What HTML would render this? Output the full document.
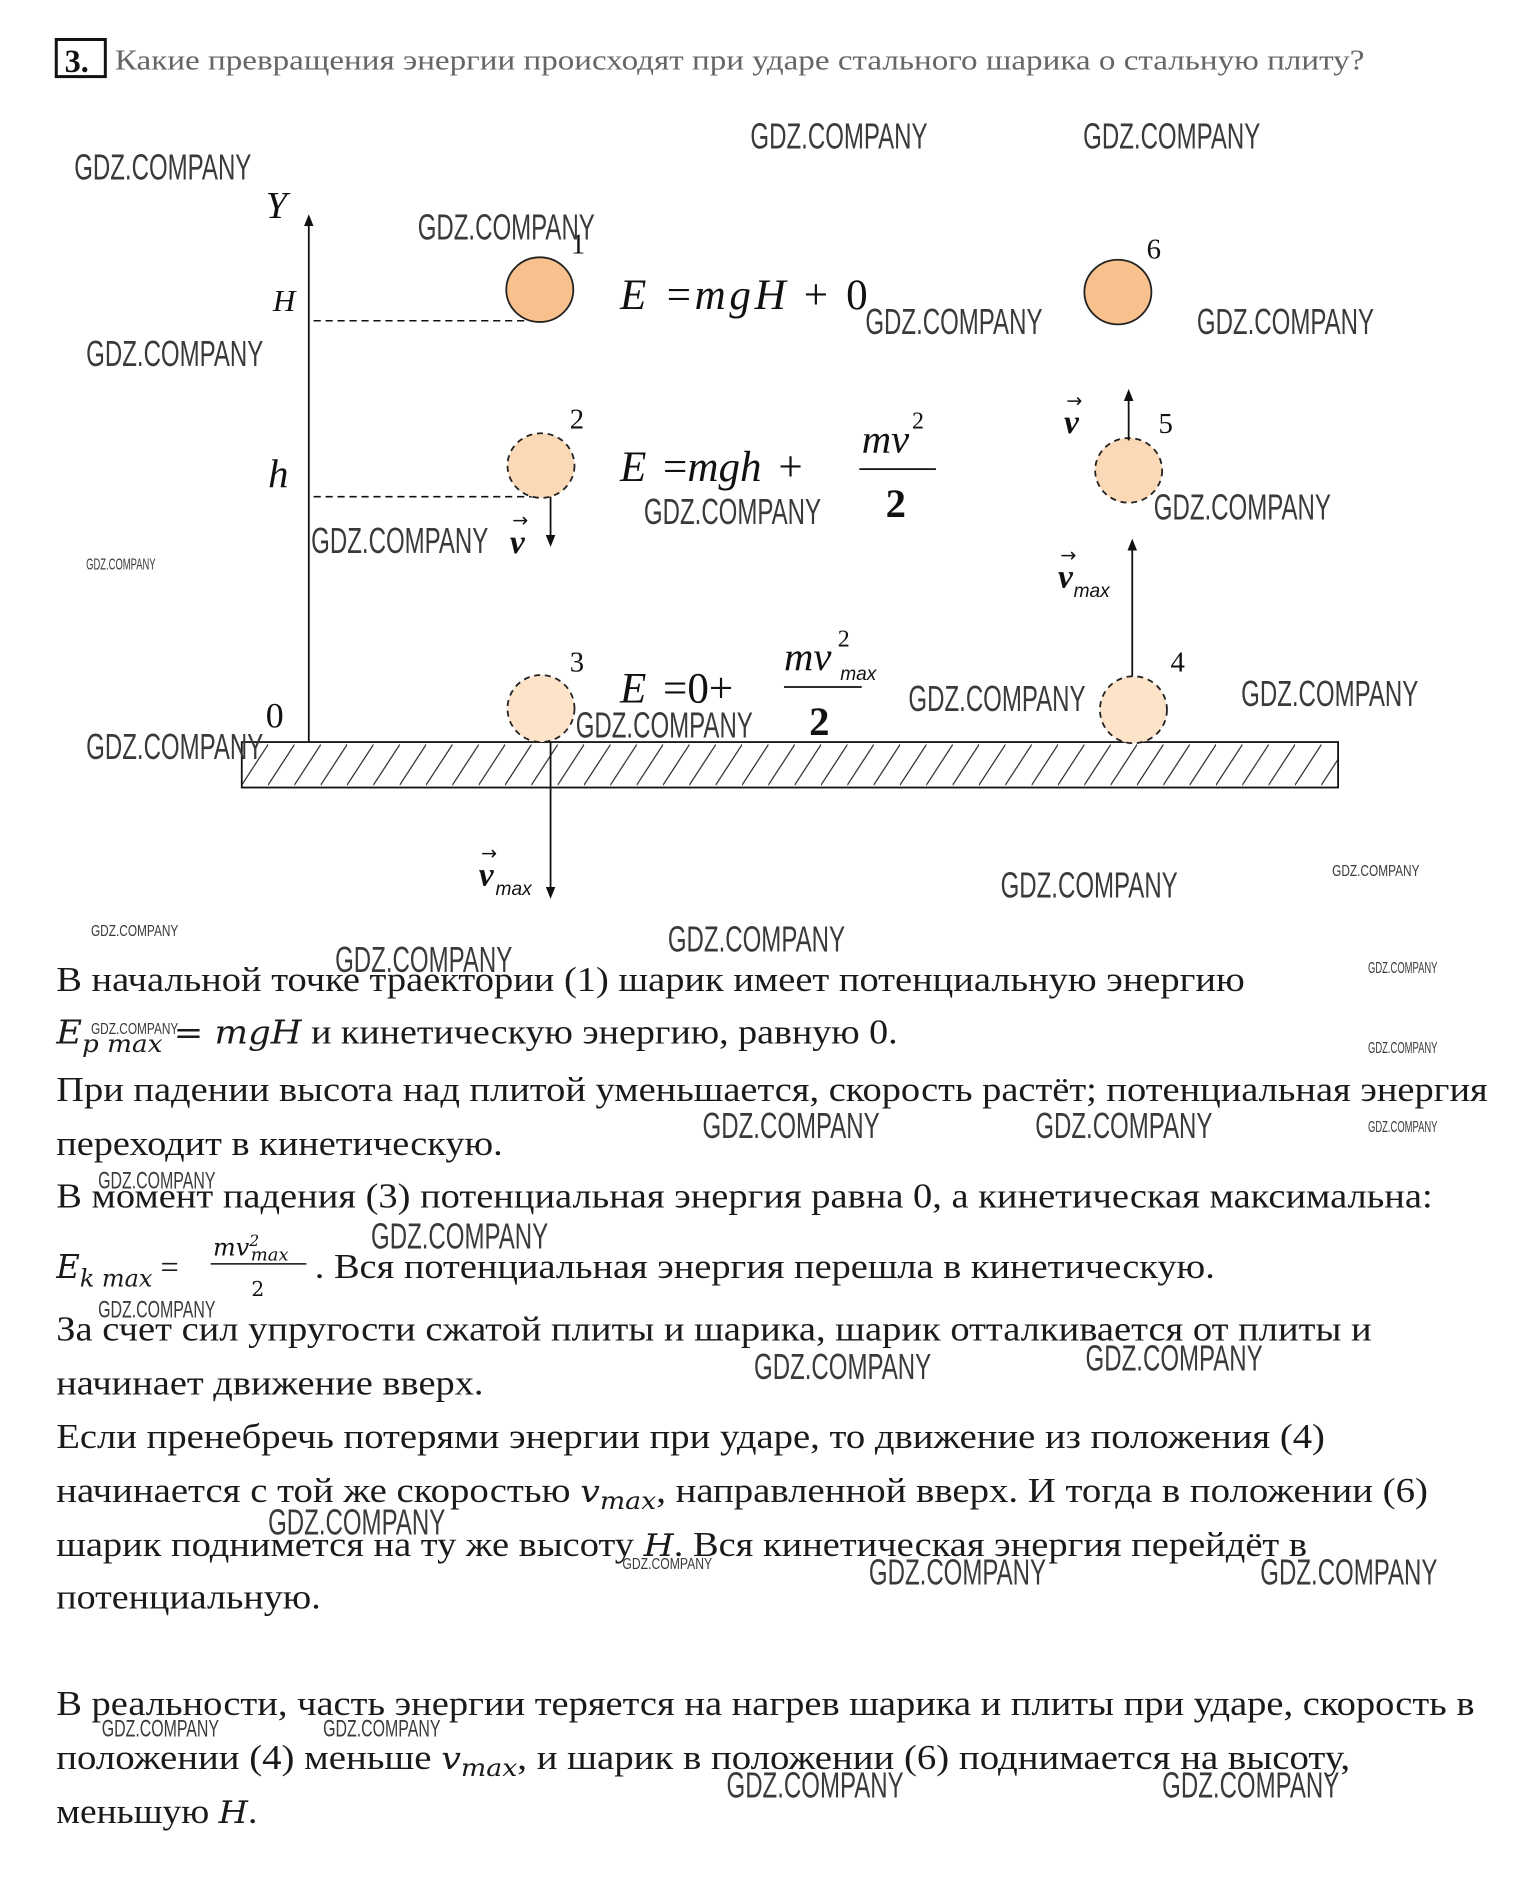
<!DOCTYPE html>
<html><head><meta charset="utf-8"><style>
html,body{margin:0;padding:0;background:#fff;}
svg{display:block;}
.wm{font-family:"Liberation Sans",sans-serif;fill:#3a3a3a;}
.b{font-family:"Liberation Serif",serif;font-size:29px;fill:#1a1a1a;}
.m{font-family:"DejaVu Serif","Liberation Serif",serif;font-style:italic;}
.f{font-family:"Liberation Serif",serif;font-style:italic;fill:#111;}
</style></head><body>
<svg width="1532" height="1897" viewBox="0 0 1280 1585" preserveAspectRatio="none" xmlns="http://www.w3.org/2000/svg">
<defs>
<pattern id="h" width="22" height="38" patternUnits="userSpaceOnUse" x="202" y="620">
<line x1="-4" y1="42" x2="26" y2="-4" stroke="#222" stroke-width="1"/>
</pattern>
<marker id="a" markerWidth="10" markerHeight="10" refX="5" refY="5" orient="auto" markerUnits="userSpaceOnUse"><path d="M0,1 L10,5 L0,9 z" fill="#111"/></marker>
</defs>
<rect x="0" y="0" width="1280" height="1585" fill="#fff"/>
<rect x="47" y="33" width="41" height="31" fill="none" stroke="#111" stroke-width="2.5"/>
<text x="54" y="60" font-family="Liberation Serif,serif" font-size="27" font-weight="bold" fill="#111">3.</text>
<text x="96" y="58" font-family="Liberation Serif,serif" font-size="24" fill="#666" textLength="1044" lengthAdjust="spacingAndGlyphs">Какие превращения энергии происходят при ударе стального шарика о стальную плиту?</text>

<line x1="258" y1="620" x2="258" y2="184" stroke="#111" stroke-width="1.5" marker-end="url(#a)"/>
<text x="222" y="182" class="f" font-size="32">Y</text>
<text x="228" y="260" class="f" font-size="26">H</text>
<text x="224" y="407" class="f" font-size="34">h</text>
<text x="222" y="608" font-family="Liberation Serif,serif" font-size="30" fill="#111">0</text>
<line x1="262" y1="268" x2="450" y2="268" stroke="#111" stroke-width="1.3" stroke-dasharray="6,4"/>
<line x1="262" y1="415" x2="458" y2="415" stroke="#111" stroke-width="1.3" stroke-dasharray="6,4"/>

<rect x="202" y="620" width="916" height="38" fill="url(#h)" stroke="#111" stroke-width="1.5"/>

<ellipse cx="451" cy="242" rx="28" ry="27" fill="#f7c08c" stroke="#222" stroke-width="1.5"/>
<ellipse cx="452" cy="389" rx="28" ry="27" fill="#fcd9b6" stroke="#222" stroke-width="1.5" stroke-dasharray="5,4"/>
<ellipse cx="452" cy="592" rx="28" ry="28" fill="#fde3c8" stroke="#222" stroke-width="1.5" stroke-dasharray="5,4"/>
<ellipse cx="934" cy="244" rx="28" ry="27" fill="#f7c08c" stroke="#222" stroke-width="1.5"/>
<ellipse cx="943" cy="393" rx="28" ry="27" fill="#fcd9b6" stroke="#222" stroke-width="1.5" stroke-dasharray="5,4"/>
<ellipse cx="947" cy="593" rx="28" ry="28" fill="#fde3c8" stroke="#222" stroke-width="1.5" stroke-dasharray="5,4"/>
<g font-family="Liberation Serif,serif" font-size="24" fill="#111">
<text x="477" y="212">1</text><text x="476" y="358">2</text><text x="476" y="561">3</text>
<text x="978" y="561">4</text><text x="968" y="362">5</text><text x="958" y="216">6</text>
</g>
<line x1="460" y1="415" x2="460" y2="452" stroke="#111" stroke-width="1.5" marker-end="url(#a)"/>
<text x="426" y="462" class="f" font-size="28" font-weight="bold">v</text><text x="428" y="440" font-size="16" font-family="DejaVu Sans" fill="#111">→</text>
<line x1="460" y1="620" x2="460" y2="746" stroke="#111" stroke-width="1.5" marker-end="url(#a)"/>
<text x="400" y="740" class="f" font-size="28" font-weight="bold">v</text><text x="402" y="718" font-size="16" font-family="DejaVu Sans" fill="#111">→</text>
<text x="414" y="748" font-family="Liberation Sans,sans-serif" font-style="italic" font-size="16" fill="#111">max</text>
<line x1="943" y1="368" x2="943" y2="330" stroke="#111" stroke-width="1.5" marker-end="url(#a)"/>
<text x="889" y="362" class="f" font-size="28" font-weight="bold">v</text><text x="891" y="340" font-size="16" font-family="DejaVu Sans" fill="#111">→</text>
<line x1="946" y1="565" x2="946" y2="455" stroke="#111" stroke-width="1.5" marker-end="url(#a)"/>
<text x="884" y="491" class="f" font-size="28" font-weight="bold">v</text><text x="886" y="469" font-size="16" font-family="DejaVu Sans" fill="#111">→</text>
<text x="897" y="499" font-family="Liberation Sans,sans-serif" font-style="italic" font-size="16" fill="#111">max</text>

<text x="518" y="258" class="f" font-size="36" textLength="207" lengthAdjust="spacing">E<tspan dx="14" font-style="normal">=</tspan>mgH<tspan font-style="normal"> + 0</tspan></text>
<text x="518" y="402" class="f" font-size="36">E<tspan dx="14" font-style="normal">=</tspan>mgh<tspan dx="14" font-style="normal">+</tspan></text>
<text x="720" y="378" class="f" font-size="34">mv</text><text x="762" y="358" font-family="Liberation Serif,serif" font-size="20" fill="#111">2</text>
<line x1="718" y1="392" x2="782" y2="392" stroke="#111" stroke-width="1.5"/>
<text x="740" y="432" font-family="Liberation Serif,serif" font-size="34" font-weight="bold" fill="#111">2</text>
<text x="518" y="587" class="f" font-size="36">E<tspan dx="14" font-style="normal">=0+</tspan></text>
<text x="655" y="560" class="f" font-size="34">mv</text><text x="700" y="540" font-family="Liberation Serif,serif" font-size="20" fill="#111">2</text>
<text x="702" y="568" font-family="Liberation Sans,sans-serif" font-style="italic" font-size="16" fill="#111">max</text>
<line x1="655" y1="574" x2="720" y2="574" stroke="#111" stroke-width="1.5"/>
<text x="676" y="614" font-family="Liberation Serif,serif" font-size="34" font-weight="bold" fill="#111">2</text>

<text class="b" x="47" y="828" textLength="993" lengthAdjust="spacingAndGlyphs">В начальной точке траектории (1) шарик имеет потенциальную энергию</text>
<text class="b" x="47" y="872" textLength="703" lengthAdjust="spacingAndGlyphs"><tspan class="m" font-size="27">E</tspan><tspan class="m" font-size="20" dy="7">p max</tspan><tspan class="m" font-size="27" dy="-7"> = mgH</tspan><tspan> и кинетическую энергию, равную 0.</tspan></text>
<text class="b" x="47" y="920" textLength="1196" lengthAdjust="spacingAndGlyphs">При падении высота над плитой уменьшается, скорость растёт; потенциальная энергия</text>
<text class="b" x="47" y="965" textLength="373" lengthAdjust="spacingAndGlyphs">переходит в кинетическую.</text>
<text class="b" x="47" y="1009" textLength="1150" lengthAdjust="spacingAndGlyphs">В момент падения (3) потенциальная энергия равна 0, а кинетическая максимальна:</text>
<text class="b" x="47" y="1068"><tspan class="m" font-size="27">E</tspan><tspan class="m" font-size="20" dy="7">k max</tspan><tspan font-size="27" dy="-7"> =</tspan></text>
<text class="m" x="178" y="1049" font-size="20" fill="#111">mv<tspan font-size="13" dy="-8">2</tspan><tspan font-size="15" dy="12" dx="-7">max</tspan></text>
<line x1="176" y1="1056" x2="256" y2="1056" stroke="#111" stroke-width="1.3"/>
<text x="210" y="1083" font-family="DejaVu Serif,serif" font-size="17" fill="#111">2</text>
<text class="b" x="263" y="1068" textLength="752" lengthAdjust="spacingAndGlyphs">. Вся потенциальная энергия перешла в кинетическую.</text>
<text class="b" x="47" y="1120" textLength="1099" lengthAdjust="spacingAndGlyphs">За счет сил упругости сжатой плиты и шарика, шарик отталкивается от плиты и</text>
<text class="b" x="47" y="1165" textLength="357" lengthAdjust="spacingAndGlyphs">начинает движение вверх.</text>
<text class="b" x="47" y="1210" textLength="1060" lengthAdjust="spacingAndGlyphs">Если пренебречь потерями энергии при ударе, то движение из положения (4)</text>
<text class="b" x="47" y="1255" textLength="1146" lengthAdjust="spacingAndGlyphs">начинается с той же скоростью <tspan class="m" font-size="26">v</tspan><tspan class="m" font-size="20" dy="6">max</tspan><tspan dy="-6">, направленной вверх. И тогда в положении (6)</tspan></text>
<text class="b" x="47" y="1300" textLength="1045" lengthAdjust="spacingAndGlyphs">шарик поднимется на ту же высоту <tspan class="m" font-size="26">H</tspan>. Вся кинетическая энергия перейдёт в</text>
<text class="b" x="47" y="1344" textLength="221" lengthAdjust="spacingAndGlyphs">потенциальную.</text>
<text class="b" x="47" y="1433" textLength="1185" lengthAdjust="spacingAndGlyphs">В реальности, часть энергии теряется на нагрев шарика и плиты при ударе, скорость в</text>
<text class="b" x="47" y="1478" textLength="1081" lengthAdjust="spacingAndGlyphs">положении (4) меньше <tspan class="m" font-size="26">v</tspan><tspan class="m" font-size="20" dy="6">max</tspan><tspan dy="-6">, и шарик в положении (6) поднимается на высоту,</tspan></text>
<text class="b" x="47" y="1523" textLength="168" lengthAdjust="spacingAndGlyphs">меньшую <tspan class="m" font-size="26">H</tspan>.</text>

<g class="wm" font-size="30">
<text x="62" y="150" textLength="148" lengthAdjust="spacingAndGlyphs">GDZ.COMPANY</text>
<text x="627" y="124" textLength="148" lengthAdjust="spacingAndGlyphs">GDZ.COMPANY</text>
<text x="905" y="124" textLength="148" lengthAdjust="spacingAndGlyphs">GDZ.COMPANY</text>
<text x="349" y="200" textLength="148" lengthAdjust="spacingAndGlyphs">GDZ.COMPANY</text>
<text x="723" y="279" textLength="148" lengthAdjust="spacingAndGlyphs">GDZ.COMPANY</text>
<text x="1000" y="279" textLength="148" lengthAdjust="spacingAndGlyphs">GDZ.COMPANY</text>
<text x="72" y="306" textLength="148" lengthAdjust="spacingAndGlyphs">GDZ.COMPANY</text>
<text x="538" y="438" textLength="148" lengthAdjust="spacingAndGlyphs">GDZ.COMPANY</text>
<text x="260" y="462" textLength="148" lengthAdjust="spacingAndGlyphs">GDZ.COMPANY</text>
<text x="964" y="434" textLength="148" lengthAdjust="spacingAndGlyphs">GDZ.COMPANY</text>
<text x="759" y="594" textLength="148" lengthAdjust="spacingAndGlyphs">GDZ.COMPANY</text>
<text x="1037" y="590" textLength="148" lengthAdjust="spacingAndGlyphs">GDZ.COMPANY</text>
<text x="72" y="634" textLength="148" lengthAdjust="spacingAndGlyphs">GDZ.COMPANY</text>
<text x="481" y="616" textLength="148" lengthAdjust="spacingAndGlyphs">GDZ.COMPANY</text>
<text x="836" y="750" textLength="148" lengthAdjust="spacingAndGlyphs">GDZ.COMPANY</text>
<text x="558" y="795" textLength="148" lengthAdjust="spacingAndGlyphs">GDZ.COMPANY</text>
<text x="280" y="812" textLength="148" lengthAdjust="spacingAndGlyphs">GDZ.COMPANY</text>
<text x="587" y="951" textLength="148" lengthAdjust="spacingAndGlyphs">GDZ.COMPANY</text>
<text x="865" y="951" textLength="148" lengthAdjust="spacingAndGlyphs">GDZ.COMPANY</text>
<text x="310" y="1043" textLength="148" lengthAdjust="spacingAndGlyphs">GDZ.COMPANY</text>
<text x="630" y="1152" textLength="148" lengthAdjust="spacingAndGlyphs">GDZ.COMPANY</text>
<text x="907" y="1145" textLength="148" lengthAdjust="spacingAndGlyphs">GDZ.COMPANY</text>
<text x="224" y="1282" textLength="148" lengthAdjust="spacingAndGlyphs">GDZ.COMPANY</text>
<text x="726" y="1324" textLength="148" lengthAdjust="spacingAndGlyphs">GDZ.COMPANY</text>
<text x="1053" y="1324" textLength="148" lengthAdjust="spacingAndGlyphs">GDZ.COMPANY</text>
<text x="607" y="1502" textLength="148" lengthAdjust="spacingAndGlyphs">GDZ.COMPANY</text>
<text x="971" y="1502" textLength="148" lengthAdjust="spacingAndGlyphs">GDZ.COMPANY</text>
</g>
<g class="wm" font-size="20">
<text x="82" y="993" textLength="98" lengthAdjust="spacingAndGlyphs">GDZ.COMPANY</text>
<text x="82" y="1101" textLength="98" lengthAdjust="spacingAndGlyphs">GDZ.COMPANY</text>
<text x="85" y="1451" textLength="98" lengthAdjust="spacingAndGlyphs">GDZ.COMPANY</text>
<text x="270" y="1451" textLength="98" lengthAdjust="spacingAndGlyphs">GDZ.COMPANY</text>
</g>
<g class="wm" font-size="13">
<text x="72" y="476" textLength="58" lengthAdjust="spacingAndGlyphs">GDZ.COMPANY</text>
<text x="1113" y="732" textLength="73" lengthAdjust="spacingAndGlyphs">GDZ.COMPANY</text>
<text x="76" y="782" textLength="73" lengthAdjust="spacingAndGlyphs">GDZ.COMPANY</text>
<text x="1143" y="813" textLength="58" lengthAdjust="spacingAndGlyphs">GDZ.COMPANY</text>
<text x="76" y="864" textLength="73" lengthAdjust="spacingAndGlyphs">GDZ.COMPANY</text>
<text x="1143" y="880" textLength="58" lengthAdjust="spacingAndGlyphs">GDZ.COMPANY</text>
<text x="1143" y="946" textLength="58" lengthAdjust="spacingAndGlyphs">GDZ.COMPANY</text>
<text x="520" y="1311" textLength="75" lengthAdjust="spacingAndGlyphs">GDZ.COMPANY</text>
</g>
</svg>
</body></html>
